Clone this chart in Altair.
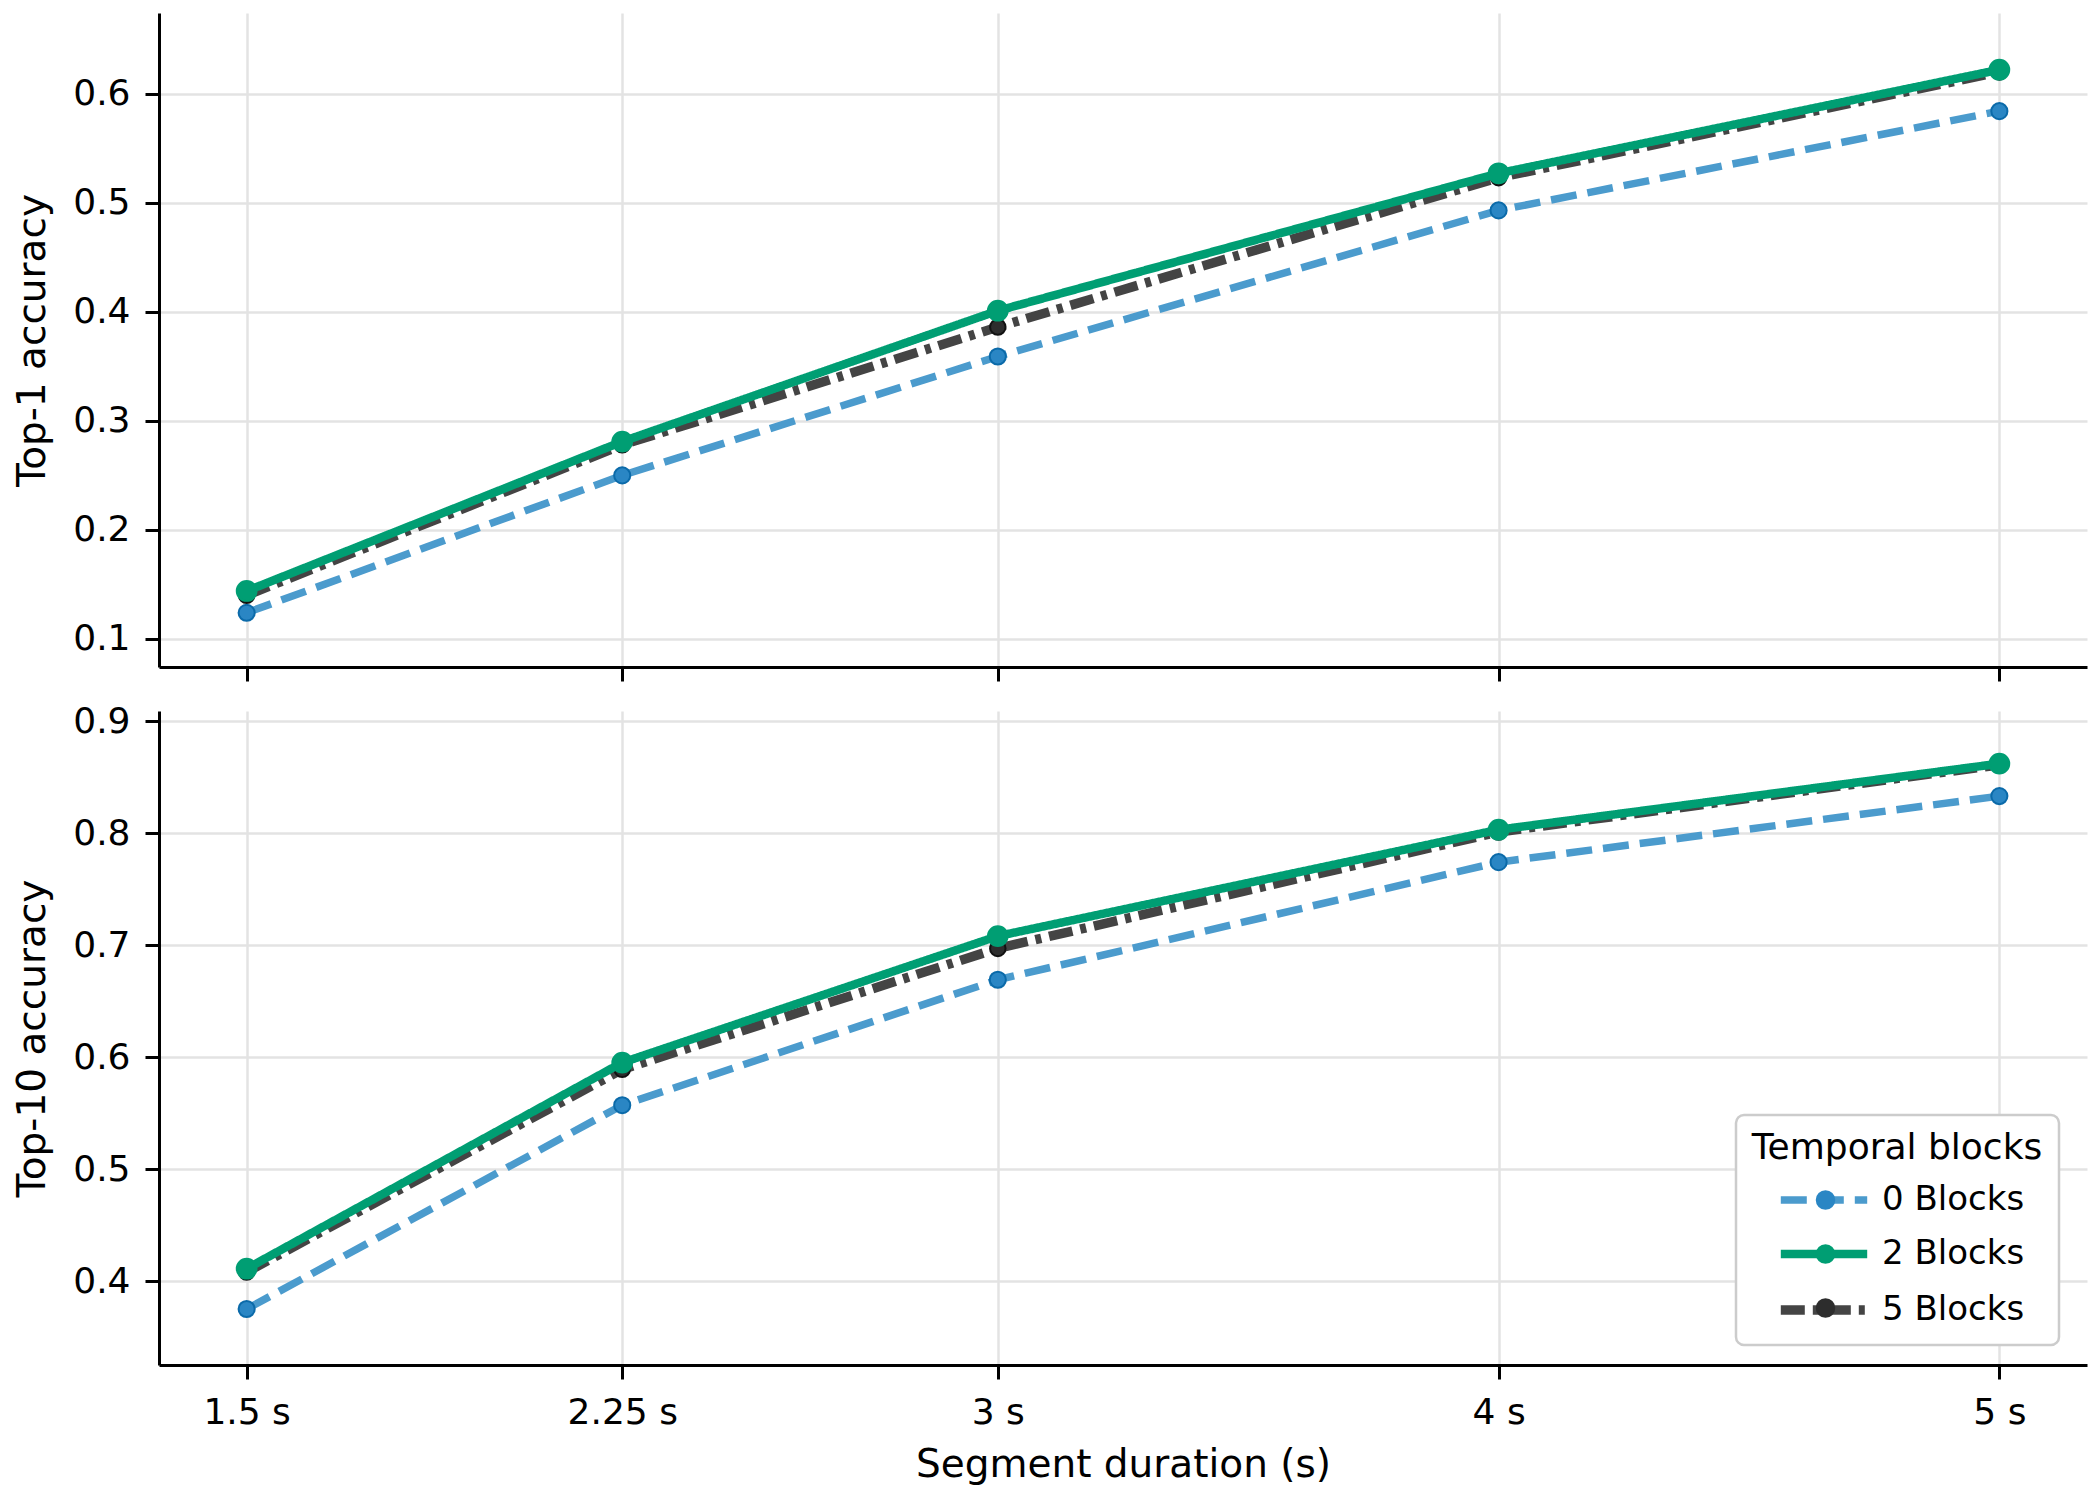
import altair as alt
import pandas as pd

# ---- data ----
durations = [1.5, 2.25, 3, 4, 5]
tick_values = [1.5, 2.25, 3, 4, 5]
series_names = ["0 Blocks", "2 Blocks", "5 Blocks"]

top1_0 = [0.124, 0.250, 0.359, 0.493, 0.584]
top1_2 = [0.144, 0.281, 0.401, 0.527, 0.622]
top1_5 = [0.140, 0.278, 0.386, 0.523, 0.620]

top10_0 = [0.375, 0.557, 0.669, 0.774, 0.833]
top10_2 = [0.411, 0.595, 0.708, 0.803, 0.862]
top10_5 = [0.408, 0.589, 0.697, 0.801, 0.861]

top1_ticks = [0.1, 0.2, 0.3, 0.4, 0.5, 0.6]
top10_ticks = [0.4, 0.5, 0.6, 0.7, 0.8, 0.9]


def make_df(vals_by_series):
    rows = []
    for name, vals in zip(series_names, vals_by_series):
        for d, v in zip(durations, vals):
            rows.append({"duration": d, "acc": v, "series": name, "marker": name})
    return pd.DataFrame(rows)


df_top = make_df([top1_0, top1_2, top1_5])
df_bot = make_df([top10_0, top10_2, top10_5])

FONT = "DejaVu Sans"
line_colors = ["#4b9bcd", "#009E73", "#444444"]
marker_fills = ["#2a86c4", "#009E73", "#2d2d2d"]
dash_range = [[26, 11], [1, 0], [24, 8, 6, 8]]
width_range = [7.5, 9.5, 7.5]
point_style = {
    "0 Blocks": dict(stroke="#0b6aa9", size=260),
    "2 Blocks": dict(stroke="#009E73", size=390),
    "5 Blocks": dict(stroke="#111111", size=240),
}
draw_order = ["0 Blocks", "5 Blocks", "2 Blocks"]

common_leg = dict(
    title="Temporal blocks",
    orient="none",
    legendX=1577,
    legendY=1102,
    titleFont=FONT,
    labelFont=FONT,
    titleFontSize=36,
    labelFontSize=34,
    titleFontWeight="normal",
    titleAnchor="middle",
    titleLimit=1000,
    labelLimit=1000,
    titlePadding=16,
    padding=16,
    rowPadding=20,
    labelOffset=41,
)

line_legend = alt.Legend(
    titleColor="black",
    labelColor="black",
    cornerRadius=8,
    fillColor="white",
    strokeColor="#cccccc",
    symbolType="M-3.6,0L3.6,0",
    symbolSize=576,
    symbolOffset=38,
    zindex=1,
    **common_leg,
)

marker_legend = alt.Legend(
    titleColor="transparent",
    labelColor="transparent",
    fillColor="transparent",
    strokeColor="transparent",
    symbolType="circle",
    symbolSize=380,
    symbolOffset=40.5,
    symbolStrokeWidth=0,
    symbolOpacity=1,
    zindex=2,
    **common_leg,
)

x_scale = alt.Scale(domain=[1.325, 5.175], nice=False, zero=False)


def panel(df, ytitle, ydomain, yticks, show_x_labels):
    x_axis = alt.Axis(
        values=tick_values,
        labelExpr="datum.value + ' s'",
        labels=show_x_labels,
        title="Segment duration (s)" if show_x_labels else None,
        labelPadding=16,
        titlePadding=15,
        grid=True,
    )
    y_axis = alt.Axis(values=yticks, format=".1f", title=ytitle,
                      labelPadding=15, titlePadding=20, grid=True)
    x = alt.X("duration:Q", scale=x_scale, axis=x_axis)
    y = alt.Y("acc:Q", scale=alt.Scale(domain=ydomain, nice=False, zero=False),
              axis=y_axis)
    layers = []
    for name in draw_order:
        sub = alt.Chart(df).transform_filter(alt.datum.series == name)
        line = sub.mark_line(strokeCap="butt", strokeJoin="round").encode(
            x=x, y=y,
            color=alt.Color("series:N", scale=alt.Scale(domain=series_names, range=line_colors),
                            legend=line_legend),
            strokeDash=alt.StrokeDash("series:N", scale=alt.Scale(domain=series_names, range=dash_range),
                                      legend=line_legend),
            strokeWidth=alt.StrokeWidth("series:N", scale=alt.Scale(domain=series_names, range=width_range),
                                        legend=line_legend),
        )
        st = point_style[name]
        pts = sub.mark_circle(opacity=1, strokeWidth=2).encode(
            x=x, y=y,
            fill=alt.Fill("marker:N", scale=alt.Scale(range=marker_fills),
                          legend=marker_legend),
            stroke=alt.value(st["stroke"]),
            size=alt.value(st["size"]),
        )
        layers += [line, pts]
    return alt.layer(*layers).properties(width=1928, height=654)


top = panel(df_top, "Top-1 accuracy", [0.0743, 0.674], top1_ticks, False)
bot = panel(df_bot, "Top-10 accuracy", [0.325, 0.909], top10_ticks, True)

chart = alt.vconcat(top, bot, spacing=20, background="white").configure_axis(
    labelFont=FONT,
    titleFont=FONT,
    labelFontSize=36,
    titleFontSize=39,
    titleFontWeight="normal",
    labelColor="black",
    titleColor="black",
    domainColor="black",
    domainWidth=3,
    tickColor="black",
    tickWidth=3,
    tickSize=14,
    gridColor="#e3e3e3",
    gridWidth=2.5,
).configure_legend(strokeWidth=2.5).configure_view(strokeWidth=0)

chart.save("out.html", embed_options={"renderer": "svg", "actions": False})
